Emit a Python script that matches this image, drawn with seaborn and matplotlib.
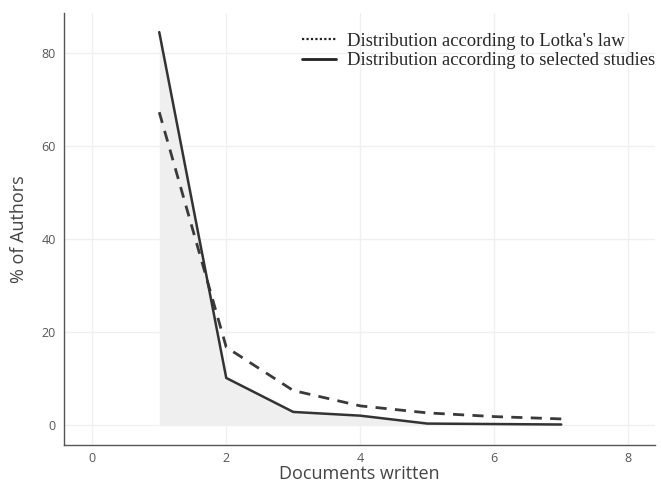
import matplotlib
matplotlib.use("Agg")
import matplotlib.pyplot as plt
from matplotlib.lines import Line2D
import seaborn as sns
import pandas as pd

docs = [1, 2, 3, 4, 5, 6, 7]
lotka = [67.3, 16.8, 7.5, 4.2, 2.7, 1.9, 1.4]
studies = [84.5, 10.2, 2.9, 2.1, 0.4, 0.3, 0.2]
xticks = [0, 2, 4, 6, 8]
yticks = [0, 20, 40, 60, 80]

sns.set_style("white")
plt.rcParams['font.family'] = ['Open Sans', 'DejaVu Sans']

fig = plt.figure(figsize=(6.61, 4.83), dpi=100)
ax = fig.add_axes([0.097, 0.0787, 0.894, 0.8943])

df = pd.DataFrame({"docs": docs, "lotka": lotka, "studies": studies})
ax.fill_between(df["docs"], 0, df["studies"], color="#efefef", zorder=1, linewidth=0)
sns.lineplot(data=df, x="docs", y="lotka", ax=ax, color="#3a3a3a", linewidth=2,
             linestyle=(0, (4, 3)), zorder=3)
sns.lineplot(data=df, x="docs", y="studies", ax=ax, color="#333333", linewidth=1.8, zorder=4)

ax.set_xlim(-0.42, 8.4)
ax.set_ylim(-4.2, 88.6)
ax.set_xticks(xticks)
ax.set_yticks(yticks)
ax.grid(True, color="#f0f0f0", linewidth=1)
ax.set_axisbelow(True)
for s in ["top", "right"]:
    ax.spines[s].set_visible(False)
for s in ["left", "bottom"]:
    ax.spines[s].set_color("#555555")
    ax.spines[s].set_linewidth(1)
ax.tick_params(axis="y", length=4, color="#555555", labelcolor="#555555", labelsize=9, pad=2)
ax.tick_params(axis="x", length=3, color="#555555", labelcolor="#555555", labelsize=9, pad=2)
ax.set_xlabel("Documents written", fontsize=13, color="#444444", labelpad=0)
ax.set_ylabel("% of Authors", fontsize=13, color="#444444", labelpad=10)

handles = [Line2D([], [], color="#222222", linestyle=(0, (1, 1)), linewidth=1.6),
           Line2D([], [], color="#222222", linestyle="-", linewidth=2)]
labels = ["Distribution according to Lotka's law",
          "Distribution according to selected studies"]
ax.legend(handles, labels, loc="upper right", bbox_to_anchor=(1.022, 0.985), frameon=False,
          prop={"family": "Liberation Serif", "size": 13.4}, handlelength=1.8,
          handletextpad=0.6, labelspacing=0.15, borderaxespad=0.3)

fig.savefig("out.png", dpi=100)
